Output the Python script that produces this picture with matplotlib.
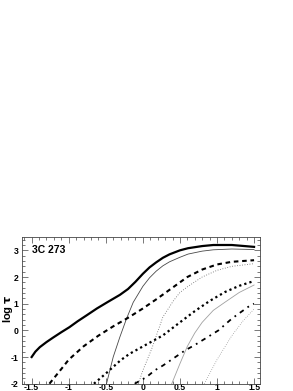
import matplotlib

matplotlib.use("Agg")
import matplotlib.pyplot as plt  # noqa: E402
from matplotlib.ticker import MultipleLocator  # noqa: E402

# curves (x = log energy, y = log tau)
thick_solid_x = [-1.5, -1.45, -1.39, -1.3, -1.21, -1.1, -0.99, -0.88, -0.76, -0.62, -0.47, -0.31, -0.2, -0.1, 0.0, 0.09, 0.18, 0.27, 0.36, 0.5, 0.61, 0.8, 0.95, 1.2, 1.5]
thick_solid_y = [-1.0, -0.8, -0.63, -0.44, -0.27, -0.07, 0.12, 0.34, 0.56, 0.82, 1.07, 1.33, 1.55, 1.82, 2.12, 2.36, 2.55, 2.72, 2.85, 3.0, 3.08, 3.16, 3.2, 3.2, 3.13]

thin_solid_x = [-0.49, -0.40, -0.31, -0.22, -0.13, 0.0, 0.09, 0.18, 0.27, 0.36, 0.5, 0.61, 0.8, 0.95, 1.2, 1.5]
thin_solid_y = [-2.0, -1.0, -0.25, 0.44, 1.05, 1.65, 1.97, 2.22, 2.42, 2.57, 2.74, 2.86, 2.97, 3.02, 3.05, 3.03]

dashed_x = [-1.26, -1.1, -1.0, -0.8, -0.6, -0.4, -0.2, 0.0, 0.2, 0.4, 0.6, 0.8, 1.0, 1.2, 1.5]
dashed_y = [-2.0, -1.45, -1.1, -0.6, -0.2, 0.15, 0.47, 0.82, 1.2, 1.6, 2.0, 2.28, 2.47, 2.57, 2.63]

fine_dot_x = [-0.06, 0.0, 0.12, 0.27, 0.41, 0.5, 0.61, 0.8, 1.0, 1.2, 1.5]
fine_dot_y = [-2.0, -1.5, -0.69, 0.5, 1.1, 1.42, 1.65, 2.0, 2.25, 2.4, 2.5]

big_dot_x = [-0.66, -0.5, -0.3, -0.18, 0.27, 0.5, 0.7, 0.9, 1.11, 1.3, 1.5]
big_dot_y = [-2.0, -1.62, -1.12, -0.88, -0.19, 0.3, 0.72, 1.1, 1.44, 1.67, 1.85]

light_solid_x = [0.39, 0.5, 0.6, 0.7, 0.8, 0.95, 1.11, 1.3, 1.5]
light_solid_y = [-2.0, -1.25, -0.6, -0.1, 0.3, 0.75, 1.06, 1.42, 1.7]

dashdot_x = [-0.11, 0.05, 0.16, 0.27, 0.36, 0.57, 0.7, 0.91, 1.02, 1.2, 1.42, 1.5]
dashdot_y = [-2.0, -1.75, -1.5, -1.32, -1.15, -0.75, -0.55, -0.19, 0.0, 0.44, 0.88, 1.0]

faint_dot_x = [0.83, 1.0, 1.2, 1.35, 1.5]
faint_dot_y = [-2.0, -1.1, -0.2, 0.35, 0.8]

x_ticks = [-1.5, -1, -0.5, 0, 0.5, 1, 1.5]
x_ticklabels = ["-1.5", "-1", "-0.5", "0", "0.5", "1", "1.5"]

plt.rcParams["font.family"] = ["Liberation Sans", "DejaVu Sans"]
plt.rcParams["axes.unicode_minus"] = False

fig = plt.figure(figsize=(2.93, 3.91), dpi=100)
ax = fig.add_axes([22 / 293, 7.3 / 391, 238 / 293, 146.7 / 391])

ax.plot(thick_solid_x, thick_solid_y, color="black", lw=1.6)
ax.plot(thin_solid_x, thin_solid_y, color="#484848", lw=0.6)
ax.plot(dashed_x, dashed_y, color="black", lw=1.5, ls=(0, (2.2, 1.8)))
ax.plot(fine_dot_x, fine_dot_y, color="#666666", lw=0.6, ls=(0, (1, 2)))
ax.plot(big_dot_x, big_dot_y, color="black", lw=1.6, ls=(0, (1, 1.4)))
ax.plot(light_solid_x, light_solid_y, color="#a0a0a0", lw=0.6)
ax.plot(dashdot_x, dashdot_y, color="black", lw=1.3, ls=(0, (2.6, 2.6, 1, 2.6)))
ax.plot(faint_dot_x, faint_dot_y, color="#777777", lw=0.5, ls=(0, (1, 2.2)))

ax.text(-1.5, 3.0, "3C 273", fontsize=7.5, fontweight="bold", va="center", ha="left")

ax.set_xlim(-1.63, 1.58)
ax.set_ylim(-2, 3.5)
ax.xaxis.set_minor_locator(MultipleLocator(0.1))
ax.yaxis.set_major_locator(MultipleLocator(1))
ax.yaxis.set_minor_locator(MultipleLocator(0.2))
ax.set_xticks(x_ticks)
ax.set_xticklabels(x_ticklabels)
ax.tick_params(which="both", direction="in", top=True, right=True,
               width=0.5, color="#444444", labelsize=6.2)
ax.tick_params(which="major", length=4.5)
ax.tick_params(which="minor", length=2.2)
ax.tick_params(axis="y", which="major", pad=2.5)
ax.tick_params(axis="x", which="major", pad=-0.3, labelsize=6.2)
for lab in ax.get_xticklabels() + ax.get_yticklabels():
    lab.set_fontweight("bold")
for sp in ax.spines.values():
    sp.set_linewidth(0.6)
    sp.set_color("#444444")

ax.set_ylabel(r"log $\mathbf{\tau}$", fontsize=8, fontweight="bold")
ax.yaxis.set_label_coords(-0.031, 0.51)

fig.savefig("out.png", dpi=100)
